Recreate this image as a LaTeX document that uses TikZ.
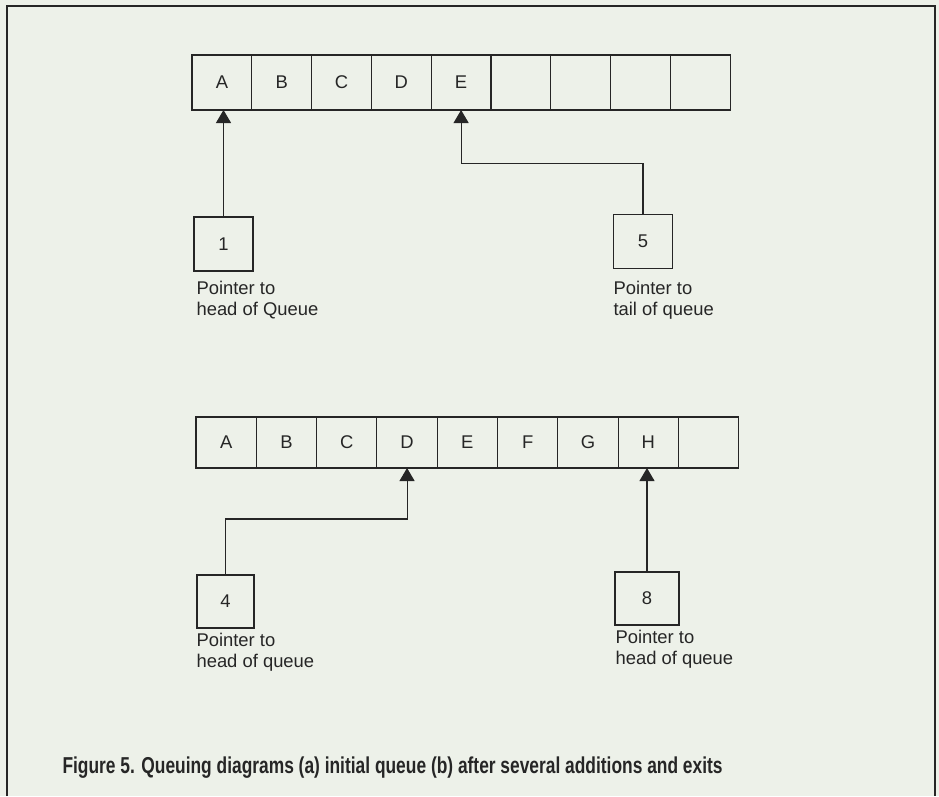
\documentclass[tikz,border=0pt]{standalone}
\usepackage{fontspec}
\setmainfont{Liberation Sans}
\usepackage{xcolor}
\usepackage{graphicx}
\usetikzlibrary{arrows.meta,positioning,calc}
\definecolor{paper}{RGB}{237,241,233}
\definecolor{ink}{RGB}{38,38,38}

\begin{document}
\begin{tikzpicture}[x=1pt, y=-1pt, color=ink, line width=1.1pt,
  font=\fontsize{18.4}{21}\selectfont, >={Triangle[width=15pt,length=13pt]},
  cell/.style={draw, minimum width=59.8pt, minimum height=55pt, inner sep=0pt, outer sep=0pt},
  ptr/.style={draw, minimum width=59pt, minimum height=54pt, inner sep=0pt, outer sep=0pt},
  note/.style={anchor=north west, align=left, inner sep=0pt}]
\fill[paper] (0,0) rectangle (939,796);
\useasboundingbox (0,0) rectangle (939,796);
\draw (7,796) -- (7,6) -- (935,6) -- (935,796);
% (a) initial queue
\foreach \t [count=\i] in {A,B,C,D,E,{},{},{},{}}
  \node[cell] (a\i) at ({192+59.8*(\i-0.5)},82.5) {\t};
\node[ptr] (head1) at (223.5,244) {1};
\node[ptr] (tail1) at (643,241.5) {5};
\node[note] (headtxt1) at (196,281) {Pointer to\\head of Queue};
\node[note] (tailtxt1) at (613,281) {Pointer to\\tail of queue};
\draw[->] (head1.north) -- (head1.north |- a1.south);
\draw[->] (tail1.north) -- ++(0,-51) -| (a5.south);
% (b) after additions and exits
\foreach \t [count=\i] in {A,B,C,D,E,F,G,H,{}}
  \node[cell, minimum width=60.3pt, minimum height=51pt] (b\i) at ({196+60.3*(\i-0.5)},442.5) {\t};
\node[ptr, minimum width=57pt, minimum height=53pt] (head2) at (225.5,601.5) {4};
\node[ptr, minimum width=64pt, minimum height=53pt] (head3) at (647,598.5) {8};
\node[note] (headtxt2) at (196,633) {Pointer to\\head of queue};
\node[note] (headtxt3) at (615,630) {Pointer to\\head of queue};
\draw[->] (head2.north) -- ++(0,-56) -| (b4.south);
\draw[->] (head3.north) -- (head3.north |- b8.south);
\node[anchor=west, inner sep=0pt, font=\bfseries\fontsize{23}{26}\selectfont] (caption) at (62,768)
  {\resizebox{660pt}{\height}{Figure 5. Queuing diagrams (a) initial queue (b) after several additions and exits}};
\end{tikzpicture}
\end{document}
